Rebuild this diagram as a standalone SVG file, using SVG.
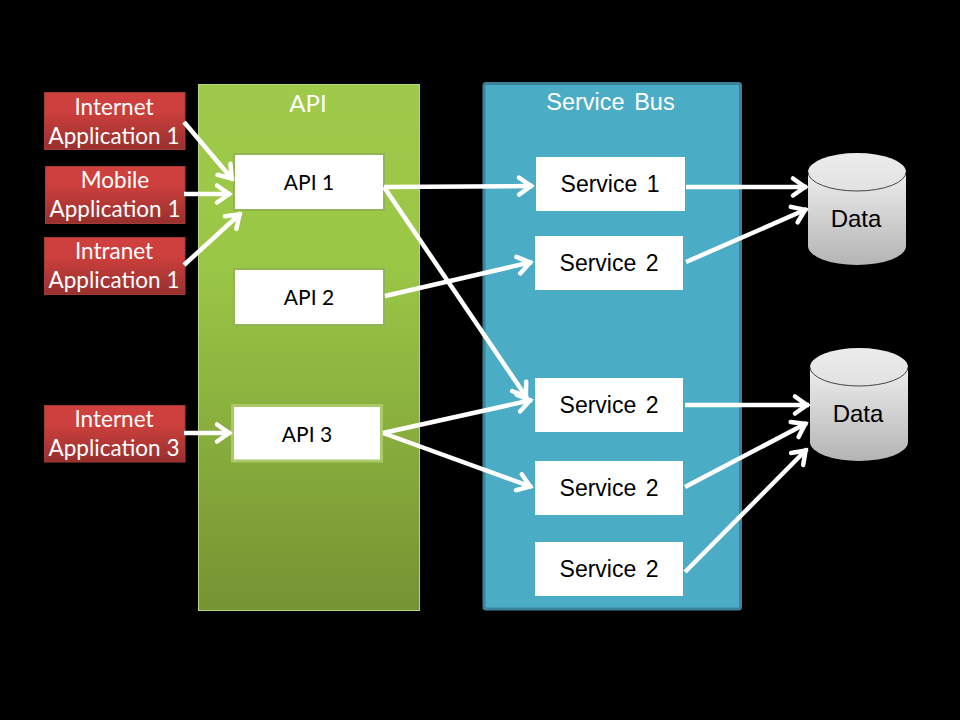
<svg xmlns="http://www.w3.org/2000/svg" width="960" height="720" viewBox="0 0 960 720">
<style>
.cal{font-family:"Lato","Carlito","Liberation Sans",sans-serif;text-anchor:middle}
.ari{font-family:"Liberation Sans",Arial,sans-serif;text-anchor:middle}
.red{fill:url(#redG);stroke:#a33a38;stroke-width:1}
.redT{fill:#fff;font-size:22.5px}
.api{fill:#fff;stroke:#93b455;stroke-width:2}
.apiT{fill:#000;font-size:21px}
.svc{fill:#fff}
.svcT{fill:#000;font-size:23px;word-spacing:3px}
.cylB{fill:url(#cylG)}
.cylT{fill:url(#topG)}
.cylE{fill:none;stroke:#444;stroke-width:1}
.dataT{fill:#000;font-size:24px}
.head{fill:#fff}
#connectors line{stroke:#fff;stroke-width:4.500;marker-end:url(#arr)}
</style>
<defs>
<linearGradient id="redG" x1="0" y1="0" x2="0" y2="1"><stop offset="0" stop-color="#d0413e"/><stop offset="0.35" stop-color="#cb3f3c"/><stop offset="1" stop-color="#97302e"/></linearGradient>
<linearGradient id="apiG" x1="0" y1="0" x2="0" y2="1"><stop offset="0" stop-color="#9fc94a"/><stop offset="0.35" stop-color="#9ac646"/><stop offset="1" stop-color="#769333"/></linearGradient>
<linearGradient id="cylG" x1="0" y1="0" x2="0" y2="1"><stop offset="0" stop-color="#ededed"/><stop offset="1" stop-color="#b4b4b4"/></linearGradient>
<linearGradient id="topG" x1="0" y1="0" x2="0" y2="1"><stop offset="0" stop-color="#ececec"/><stop offset="1" stop-color="#e2e2e2"/></linearGradient>
<marker id="arr" markerUnits="userSpaceOnUse" markerWidth="24" markerHeight="24" refX="17" refY="12" orient="auto" overflow="visible">
<path d="M3 3.500 L15 12 L3 20.500" fill="none" stroke="#fff" stroke-width="4.500" stroke-linecap="round" stroke-linejoin="miter"/>
</marker>
</defs>
<rect width="960" height="720" fill="#000"/>
<g id="panel-api">
<rect x="198.500" y="84.500" width="221" height="526" fill="url(#apiG)" stroke="#b5d57a" stroke-width="1"/>
<text class="cal head" x="308" y="112" font-size="24">API</text>
</g>
<g id="panel-service-bus">
<rect x="484" y="83.500" width="256.500" height="525.500" rx="2" fill="#4bacc6" stroke="#3d8299" stroke-width="3"/>
<text class="ari head" x="610.500" y="110" font-size="23.500" style="word-spacing:3px">Service Bus</text>
</g>
<g id="internet-app-1"><rect class="red" x="44.500" y="92.500" width="140.500" height="57"/><text class="cal redT" x="114" y="115">Internet</text><text class="cal redT" x="114" y="144">Application 1</text></g>
<g id="mobile-app-1"><rect class="red" x="45.500" y="166.500" width="139.500" height="57"/><text class="cal redT" x="115" y="188">Mobile</text><text class="cal redT" x="115" y="217">Application 1</text></g>
<g id="intranet-app-1"><rect class="red" x="44.500" y="237.500" width="140.500" height="57"/><text class="cal redT" x="114" y="259">Intranet</text><text class="cal redT" x="114" y="288">Application 1</text></g>
<g id="internet-app-3"><rect class="red" x="44.500" y="405.500" width="140.500" height="56.500"/><text class="cal redT" x="114" y="427">Internet</text><text class="cal redT" x="114" y="456">Application 3</text></g>
<g id="api-1"><rect class="api" x="234" y="154" width="150" height="56"/><text class="cal apiT" x="309" y="190">API 1</text></g>
<g id="api-2"><rect class="api" x="234" y="269" width="150" height="56"/><text class="cal apiT" x="309" y="305">API 2</text></g>
<g id="api-3"><rect x="232.500" y="405.500" width="149" height="55.500" fill="#fff" stroke="#a9c866" stroke-width="3"/><text class="cal apiT" x="307" y="442">API 3</text></g>
<g id="service-1"><rect class="svc" x="536" y="157" width="149" height="54"/><text class="ari svcT" x="610" y="192">Service 1</text></g>
<g id="service-2a"><rect class="svc" x="535" y="236" width="148" height="54"/><text class="ari svcT" x="609" y="271">Service 2</text></g>
<g id="service-2b"><rect class="svc" x="535" y="378" width="148" height="54"/><text class="ari svcT" x="609" y="413">Service 2</text></g>
<g id="service-2c"><rect class="svc" x="535" y="461" width="148" height="54"/><text class="ari svcT" x="609" y="496">Service 2</text></g>
<g id="service-2d"><rect class="svc" x="535" y="542" width="148" height="54"/><text class="ari svcT" x="609" y="577">Service 2</text></g>
<g id="data-1">
<path class="cylB" d="M808 172 V246 A49 19 0 0 0 906 246 V172 Z"/>
<ellipse class="cylT" cx="857" cy="172" rx="49" ry="19"/>
<path class="cylE" d="M808 172 A49 19 0 0 0 906 172"/>
<text class="ari dataT" x="856" y="227">Data</text>
</g>
<g id="data-2">
<path class="cylB" d="M810 367 V442 A49 19 0 0 0 908 442 V367 Z"/>
<ellipse class="cylT" cx="859" cy="367" rx="49" ry="19"/>
<path class="cylE" d="M810 367 A49 19 0 0 0 908 367"/>
<text class="ari dataT" x="858" y="422">Data</text>
</g>
<g id="connectors">
<line x1="184" y1="122" x2="233" y2="180"/>
<line x1="184" y1="194" x2="231" y2="194"/>
<line x1="184" y1="265" x2="241" y2="213"/>
<line x1="184" y1="433" x2="231" y2="433"/>
<line x1="384" y1="187" x2="533" y2="186"/>
<line x1="384" y1="187" x2="527" y2="398"/>
<line x1="385" y1="296" x2="532" y2="262"/>
<line x1="383" y1="433" x2="532" y2="400"/>
<line x1="383" y1="433" x2="532" y2="487"/>
<line x1="686" y1="187" x2="807" y2="187"/>
<line x1="686" y1="262" x2="807" y2="209"/>
<line x1="685" y1="405" x2="809" y2="405"/>
<line x1="685" y1="487" x2="807" y2="423"/>
<line x1="685" y1="572" x2="807" y2="449"/>
</g>
</svg>
